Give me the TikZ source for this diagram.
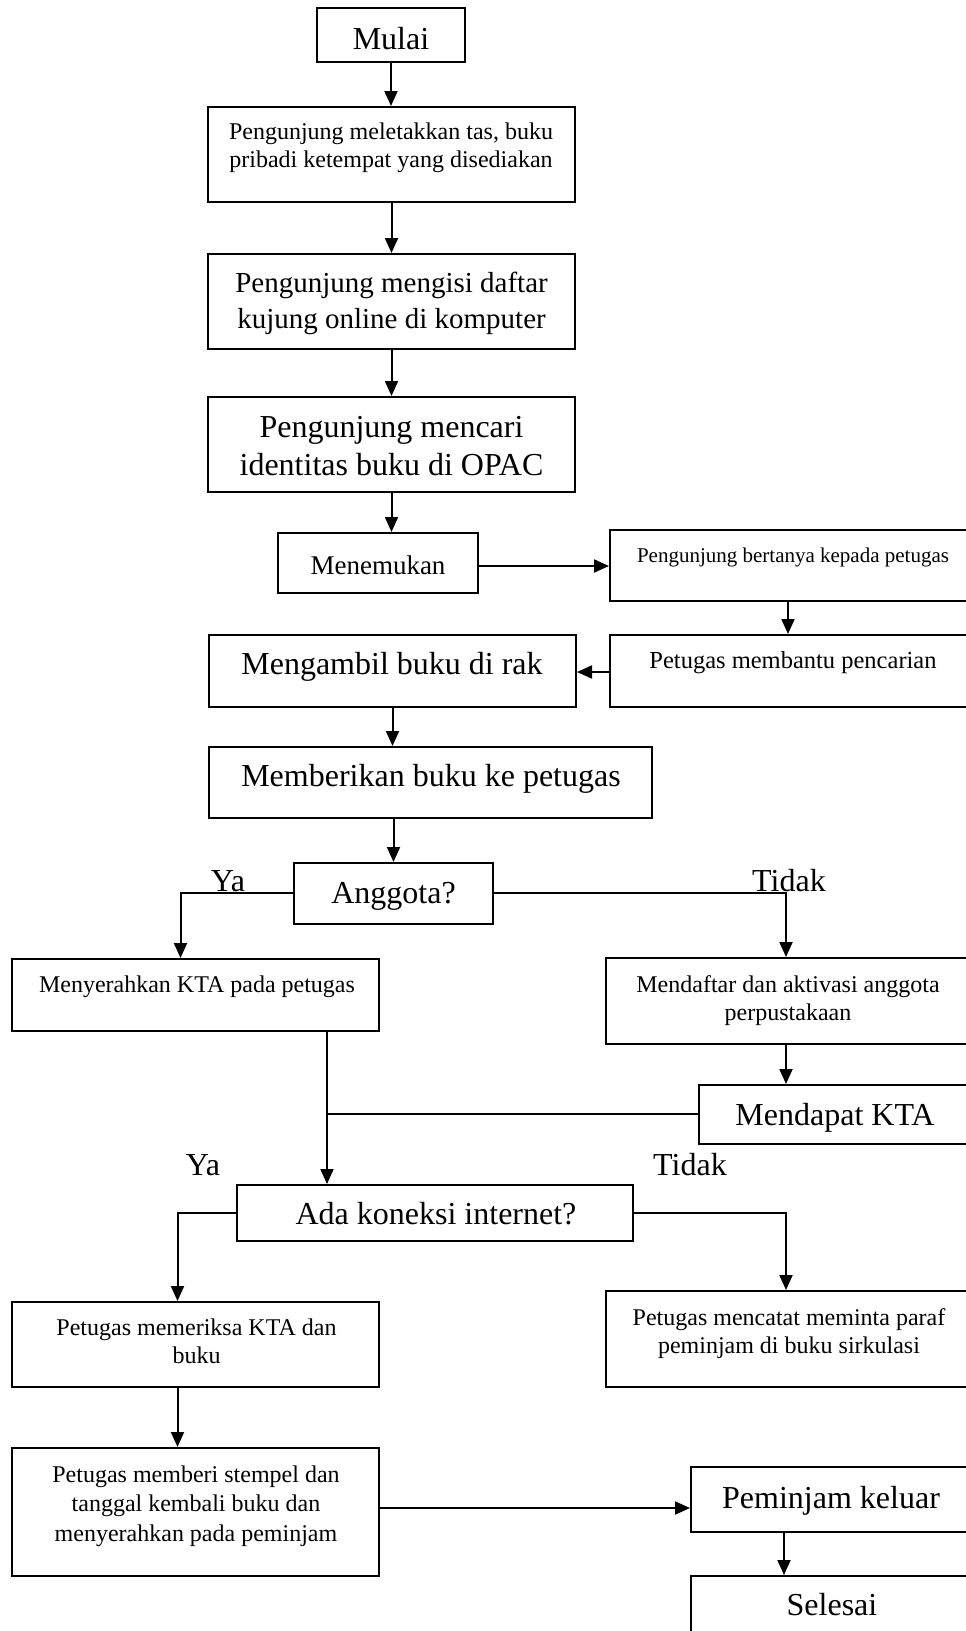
\documentclass[tikz,border=0pt]{standalone}
\usepackage{fontspec}
\setmainfont{Liberation Serif}
\usetikzlibrary{arrows.meta}
\tikzset{
  box/.style={draw, line width=2pt, rectangle, inner sep=0pt},
  arr/.style={line width=2pt, -{Triangle[length=15pt,width=13pt]}},
  ln/.style={line width=2pt},
  tbig/.style={font=\fontsize{32}{38}\selectfont, inner sep=0pt, anchor=base, align=center},
  tsmall/.style={font=\fontsize{24}{28}\selectfont, inner sep=0pt, anchor=base, align=center},
}
\begin{document}
\begin{tikzpicture}[x=1pt,y=-1pt]
\useasboundingbox (0,0) rectangle (966,1631);
\clip (0,0) rectangle (966,1631);
\fill[white] (0,0) rectangle (966,1631);
% boxes
\node[box, minimum width=148, minimum height=54] (mulai) at (391,35) {};
\node[box, minimum width=367, minimum height=95] (b2) at (391.5,154.5) {};
\node[box, minimum width=367, minimum height=95] (b3) at (391.5,301.5) {};
\node[box, minimum width=367, minimum height=95] (b4) at (391.5,444.5) {};
\node[box, minimum width=200, minimum height=60] (men) at (378,563) {};
\node[box, minimum width=361, minimum height=71] (tanya) at (790.5,565.5) {};
\node[box, minimum width=361, minimum height=72] (bantu) at (790.5,671) {};
\node[box, minimum width=367, minimum height=72] (ambil) at (392.5,671) {};
\node[box, minimum width=443, minimum height=71] (beri) at (430.5,782.5) {};
\node[box, minimum width=199, minimum height=61] (angg) at (393.5,893.5) {};
\node[box, minimum width=367, minimum height=72] (serah) at (195.5,995) {};
\node[box, minimum width=365, minimum height=86] (daftar) at (788.5,1001) {};
\node[box, minimum width=272, minimum height=59] (dapat) at (835,1114.5) {};
\node[box, minimum width=396, minimum height=56] (kon) at (435,1213) {};
\node[box, minimum width=367, minimum height=85] (periksa) at (195.5,1344.5) {};
\node[box, minimum width=365, minimum height=96] (catat) at (788.5,1339) {};
\node[box, minimum width=367, minimum height=128] (stempel) at (195.5,1512) {};
\node[box, minimum width=280, minimum height=65] (keluar) at (831,1499.5) {};
\node[box, minimum width=280, minimum height=74] (selesai) at (831,1613) {};
% texts (multi-line nodes: anchor base = last line baseline)
\node[tbig] (tmulai) at (391,49) {Mulai};
\node[tsmall] (tb2) at (391,167) {Pengunjung meletakkan tas, buku\\pribadi ketempat yang disediakan};
\node[tbig, font=\fontsize{29}{36}\selectfont] (tb3) at (391.5,328) {Pengunjung mengisi daftar\\kujung online di komputer};
\node[tbig] (tb4) at (391.5,475) {Pengunjung mencari\\identitas buku di OPAC};
\node[tbig, font=\fontsize{27}{32}\selectfont] (tmen) at (378,574) {Menemukan};
\node[tsmall, font=\fontsize{21}{25}\selectfont] (ttanya) at (793,562) {Pengunjung bertanya kepada petugas};
\node[tsmall, font=\fontsize{24.5}{29}\selectfont] (tbantu) at (793,668) {Petugas membantu pencarian};
\node[tbig] (tambil) at (392,674) {Mengambil buku di rak};
\node[tbig] (tberi) at (431,786) {Memberikan buku ke petugas};
\node[tbig] (tangg) at (393.5,903) {Anggota?};
\node[tbig] (ya1) at (228,891) {Ya};
\node[tbig] (tidak1) at (789,891) {Tidak};
\node[tsmall] (tserah) at (197,992) {Menyerahkan KTA pada petugas};
\node[tsmall] (tdaftar) at (788,1020) {Mendaftar dan aktivasi anggota\\perpustakaan};
\node[tbig] (tdapat) at (835,1125) {Mendapat KTA};
\node[tbig] (ya2) at (203,1175) {Ya};
\node[tbig] (tidak2) at (690,1175) {Tidak};
\node[tbig] (tkon) at (436,1224) {Ada koneksi internet?};
\node[tsmall] (tperiksa) at (196.5,1363) {Petugas memeriksa KTA dan\\buku};
\node[tsmall] (tcatat) at (789,1353) {Petugas mencatat meminta paraf\\peminjam di buku sirkulasi};
\node[tsmall, font=\fontsize{24}{29.5}\selectfont] (tstempel) at (196,1541) {Petugas memberi stempel dan\\tanggal kembali buku dan\\menyerahkan pada peminjam};
\node[tbig] (tkeluar) at (831,1508) {Peminjam keluar};
\node[tbig] (tselesai) at (832,1615) {Selesai};
% helper coordinates
\coordinate (c1) at (180.5,893);
\coordinate (c2) at (786,893);
\coordinate (c3) at (327,1114);
\coordinate (c4) at (177.5,1213);
\coordinate (c5) at (786,1213);
% connectors
\draw[arr] (mulai.south) -- (mulai.south |- b2.north);
\draw[arr] (b2.south) -- (b3.north);
\draw[arr] (b3.south) -- (b4.north);
\draw[arr] (b4.south) -- (b4.south |- men.north);
\draw[arr] (men.east |- 0,566) -- (tanya.west |- 0,566);
\draw[arr] (tanya.south -| 788,0) -- (788,0 |- bantu.north);
\draw[arr] (bantu.west |- 0,672) -- (ambil.east |- 0,672);
\draw[arr] (ambil.south) -- (ambil.south |- beri.north);
\draw[arr] (angg.north |- beri.south) -- (angg.north);
\draw[arr] (angg.west |- c1) -- (c1) -- (c1 |- serah.north);
\draw[arr] (angg.east |- c2) -- (c2) -- (c2 |- daftar.north);
\draw[arr] (c2 |- daftar.south) -- (c2 |- dapat.north);
\draw[arr] (c3 |- serah.south) -- (c3 |- kon.north);
\draw[ln] (dapat.west |- c3) -- (c3);
\draw[arr] (kon.west |- c4) -- (c4) -- (c4 |- periksa.north);
\draw[arr] (kon.east |- c5) -- (c5) -- (c5 |- catat.north);
\draw[arr] (c4 |- periksa.south) -- (c4 |- stempel.north);
\draw[arr] (stempel.east |- 0,1508) -- (keluar.west |- 0,1508);
\draw[arr] (784,0 |- keluar.south) -- (784,0 |- selesai.north);
\end{tikzpicture}
\end{document}
